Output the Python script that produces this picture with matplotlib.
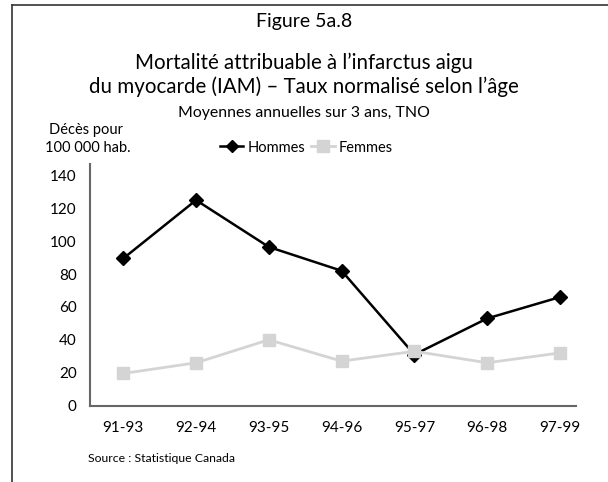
import matplotlib
matplotlib.use("Agg")
import matplotlib.pyplot as plt
from matplotlib.lines import Line2D

categories = ["91-93", "92-94", "93-95", "94-96", "95-97", "96-98", "97-99"]
hommes = [89.5, 125, 96.5, 82, 31, 53, 66]
femmes = [19.5, 26, 40, 27, 33, 26, 32]
yticks = [0, 20, 40, 60, 80, 100, 120, 140]

plt.rcParams['font.family'] = ['Lato', 'DejaVu Sans']

fig = plt.figure(figsize=(6.08, 4.82), dpi=100)
ax = fig.add_axes([90/608, 1-405.5/482, (576-90)/608, (405.5-164)/482])

x = list(range(len(categories)))
ax.plot(x, hommes, color='black', lw=1.8, marker='D', ms=7, mec='black', mfc='black', zorder=2)
ax.plot(x, femmes, color='#d4d4d4', lw=2, marker='s', ms=9, mec='#d4d4d4', mfc='#d4d4d4', zorder=3)

ax.set_xlim(-0.457, 6.22)
ax.set_ylim(0, 147)
ax.set_xticks(x)
ax.set_xticklabels(categories, fontsize=11)
ax.set_yticks(yticks)
ax.set_yticklabels([str(v) for v in yticks], fontsize=11)
ax.tick_params(axis='x', length=0, pad=11)
ax.tick_params(axis='y', length=0, pad=9.5)
for s in ['top', 'right']:
    ax.spines[s].set_visible(False)
for s in ['left', 'bottom']:
    ax.spines[s].set_color('#666666')
    ax.spines[s].set_linewidth(1.5)

# frame
fig.add_artist(Line2D([12/608, 12/608], [0, 1-5/482], transform=fig.transFigure, color='#333333', lw=1.2))
fig.add_artist(Line2D([12/608, 1], [1-5/482, 1-5/482], transform=fig.transFigure, color='#333333', lw=1.2))

fig.text(304/608, 1-22/482, "Figure 5a.8", ha='center', va='center', fontsize=14)
fig.text(304/608, 1-63/482, "Mortalité attribuable à l’infarctus aigu", ha='center', va='center', fontsize=14.8)
fig.text(304/608, 1-87/482, "du myocarde (IAM) – Taux normalisé selon l’âge", ha='center', va='center', fontsize=14.8)
fig.text(304/608, 1-113/482, "Moyennes annuelles sur 3 ans, TNO", ha='center', va='center', fontsize=11.4)
fig.text(49/608, 1-130/482, "Décès pour", ha='left', va='center', fontsize=10.5)
fig.text(45/608, 1-148/482, "100 000 hab.", ha='left', va='center', fontsize=10.5)
fig.text(88/608, 1-459/482, "Source : Statistique Canada", ha='left', va='center', fontsize=8.8)

h1 = Line2D([], [], color='black', lw=1.8, marker='D', ms=6.5)
h2 = Line2D([], [], color='#d4d4d4', lw=2, marker='s', ms=8)
fig.legend([h1, h2], ["Hommes", "Femmes"], loc='center left', bbox_to_anchor=(220/608, 1-147.5/482),
           ncol=2, frameon=False, fontsize=10.5, handlelength=1.6, handletextpad=0.3,
           columnspacing=0.4, borderpad=0, borderaxespad=0)

fig.savefig("out.png", dpi=100)
